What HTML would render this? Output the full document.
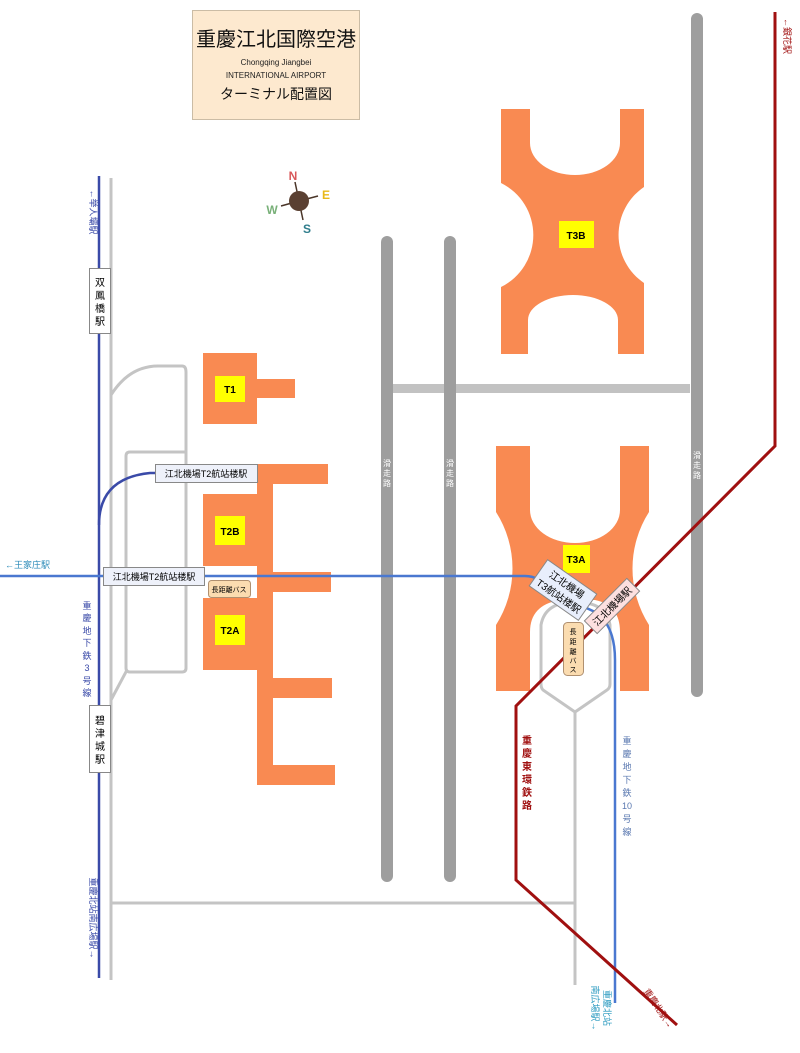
<!DOCTYPE html>
<html><head><meta charset="utf-8"><style>
html,body{margin:0;padding:0;background:#fff;}
svg{display:block;font-family:"Liberation Sans","Noto Sans CJK JP",sans-serif;}
</style></head><body>
<svg width="800" height="1053" viewBox="0 0 800 1053" xmlns="http://www.w3.org/2000/svg">
<rect width="800" height="1053" fill="#fff"/>
<!-- title -->
<rect x="192.5" y="10.5" width="167" height="109" fill="#fde9cf" stroke="#cbbca5"/>
<text x="276" y="46" font-size="20" text-anchor="middle" fill="#111">重慶江北国際空港</text>
<text x="276" y="65" font-size="8" text-anchor="middle" fill="#222">Chongqing Jiangbei</text>
<text x="276" y="78" font-size="8" text-anchor="middle" fill="#222">INTERNATIONAL AIRPORT</text>
<text x="276" y="99" font-size="14" text-anchor="middle" fill="#111">ターミナル配置図</text>
<!-- compass -->
<g stroke="#4a3528" stroke-width="1.5">
<line x1="299" y1="201" x2="295" y2="182"/><line x1="299" y1="201" x2="318" y2="196"/>
<line x1="299" y1="201" x2="281" y2="206"/><line x1="299" y1="201" x2="303" y2="220"/></g>
<circle cx="299" cy="201" r="10" fill="#5a4032"/>
<g font-size="12" font-weight="bold" text-anchor="middle">
<text x="293" y="180" fill="#d9585a">N</text><text x="326" y="199" fill="#e8b818">E</text>
<text x="272" y="214" fill="#78b078">W</text><text x="307" y="233" fill="#2f7d8c">S</text></g>
<!-- gray roads -->
<g fill="none" stroke="#c4c4c4" stroke-width="3">
<line x1="111" y1="178" x2="111" y2="980"/>
<path d="M111 395 Q130 365 160 366 L182 366 Q186 366 186 372 L186 668 Q186 672 182 672 L130 672 Q126 672 126 668 L126 456 Q126 452 130 452 L186 452"/>
<line x1="127" y1="670" x2="111" y2="700"/>
<line x1="111" y1="903" x2="575" y2="903"/>
<line x1="575" y1="712" x2="575" y2="985"/>
<path d="M575 712 L543 690 Q541 688 541 684 L541 625 Q545 602 575 602 Q606 602 610 625 L610 684 Q610 688 607 690 Z"/>
</g>
<rect x="393" y="384" width="297" height="9" fill="#c2c2c2"/>
<!-- runways -->
<g stroke="#9e9e9e" stroke-width="12" stroke-linecap="round">
<line x1="387" y1="242" x2="387" y2="876"/><line x1="450" y1="242" x2="450" y2="876"/><line x1="697" y1="19" x2="697" y2="691"/></g>
<g font-size="8" fill="#fff" text-anchor="middle">
<text x="387" y="466">滑</text><text x="387" y="476">走</text><text x="387" y="486">路</text>
<text x="450" y="466">滑</text><text x="450" y="476">走</text><text x="450" y="486">路</text>
<text x="697" y="458">滑</text><text x="697" y="468">走</text><text x="697" y="478">路</text></g>
<!-- T1/T2 -->
<g fill="#f98a52">
<rect x="203" y="353" width="54" height="71"/><rect x="257" y="379" width="38" height="19"/>
<rect x="203" y="494" width="54" height="72"/><rect x="203" y="598" width="54" height="72"/>
<rect x="257" y="464" width="16" height="321"/>
<rect x="257" y="464" width="71" height="20"/><rect x="257" y="572" width="74" height="20"/>
<rect x="257" y="678" width="75" height="20"/><rect x="257" y="765" width="78" height="20"/></g>
<g fill="#ffff00"><rect x="215" y="376" width="30" height="26"/><rect x="215" y="516" width="30" height="29"/><rect x="215" y="615" width="30" height="30"/></g>
<g font-size="10" font-weight="bold" text-anchor="middle"><text x="230" y="393">T1</text><text x="230" y="535">T2B</text><text x="230" y="634">T2A</text></g>
<!-- T3B -->
<path fill="#f98a52" d="M501 109 L530 109 L530 143 A45 32 0 0 0 620 143 L620 109 L644 109 L644 187 A58 58 0 0 0 644 283 L644 354 L618 354 L618 320 A45 25 0 0 0 528 320 L528 354 L501 354 L501 287 A58 58 0 0 0 501 183 Z"/>
<rect x="559" y="221" width="35" height="27" fill="#ffff00"/>
<text x="576" y="239" font-size="10" font-weight="bold" text-anchor="middle">T3B</text>
<!-- T3A -->
<path fill="#f98a52" d="M496 446 L530 446 L530 510 A45 33 0 0 0 620 510 L620 446 L649 446 L649 512 A105 105 0 0 0 649 625 L649 691 L620 691 L620 632 Q620 605 595 600 L560 600 Q530 605 530 632 L530 691 L496 691 L496 625 A105 105 0 0 0 496 512 Z"/>
<rect x="563" y="545" width="27" height="28" fill="#ffff00"/>
<text x="576" y="563" font-size="10" font-weight="bold" text-anchor="middle">T3A</text>
<!-- blue lines -->
<g fill="none" stroke-width="2.5">
<path d="M99 176 L99 978" stroke="#3a4aa8"/>
<path d="M99 525 Q99 478 150 473 L160 473" stroke="#3a4aa8"/>
<path d="M0 576 L525 576 Q540 576 548 590 L595 612 Q615 625 615 660 L615 1003" stroke="#4a78d0"/>
</g>
<!-- red line -->
<polyline fill="none" stroke="#a01010" stroke-width="3" points="775,12 775,446 516,706 516,880 677,1025"/>
<!-- left labels -->
<g font-size="9" fill="#3a4aa8" text-anchor="middle">
<text transform="translate(90,212) rotate(90)">←举人壩駅</text>
<text transform="translate(90,918) rotate(90)">重慶北站南広場駅→</text></g>
<g font-size="9" fill="#3a4aa8" text-anchor="middle">
<text x="87" y="609">重</text><text x="87" y="621">慶</text><text x="87" y="634">地</text><text x="87" y="646">下</text><text x="87" y="659">鉄</text><text x="87" y="671">3</text><text x="87" y="684">号</text><text x="87" y="696">線</text></g>
<text x="5" y="568" font-size="9" fill="#2a8ab8">←王家庄駅</text>
<rect x="89.5" y="268.5" width="21" height="65" fill="#fff" stroke="#888"/>
<g font-size="10" text-anchor="middle"><text x="100" y="286">双</text><text x="100" y="299">鳳</text><text x="100" y="312">橋</text><text x="100" y="325">駅</text></g>
<rect x="89.5" y="705.5" width="21" height="67" fill="#fff" stroke="#888"/>
<g font-size="10" text-anchor="middle"><text x="100" y="724">碧</text><text x="100" y="737">津</text><text x="100" y="750">城</text><text x="100" y="763">駅</text></g>
<rect x="155.5" y="464.5" width="102" height="18" fill="#eef1fa" stroke="#888"/>
<text x="206" y="477" font-size="9" text-anchor="middle">江北機場T2航站楼駅</text>
<rect x="103.5" y="567.5" width="101" height="18" fill="#eef1fa" stroke="#888"/>
<text x="154" y="580" font-size="9" text-anchor="middle">江北機場T2航站楼駅</text>
<rect x="208.5" y="580.5" width="42" height="17" rx="3" fill="#fbdcb0" stroke="#b09070"/>
<text x="229" y="592" font-size="7" text-anchor="middle">長距離バス</text>
<!-- T3 labels -->
<g transform="translate(563,590) rotate(35)">
<rect x="-30" y="-16" width="60" height="32" fill="#e8eefc" stroke="#888"/>
<text x="0" y="-3" font-size="10" text-anchor="middle">江北機場</text>
<text x="0" y="11" font-size="10" text-anchor="middle">T3航站楼駅</text></g>
<g transform="translate(612,606) rotate(-45)">
<rect x="-30" y="-9" width="60" height="18" fill="#fde0e0" stroke="#888"/>
<text x="0" y="4" font-size="10" text-anchor="middle">江北機場駅</text></g>
<rect x="563.5" y="622.5" width="20" height="53" rx="4" fill="#fbdcb0" stroke="#b09070"/>
<g font-size="7" text-anchor="middle"><text x="573" y="634">長</text><text x="573" y="644">距</text><text x="573" y="654">離</text><text x="573" y="663">バ</text><text x="573" y="672">ス</text></g>
<!-- right labels -->
<text transform="translate(784,36) rotate(90)" font-size="9" fill="#a01010" text-anchor="middle">←銀花駅</text>
<g font-size="10" fill="#a01010" text-anchor="middle" font-weight="bold">
<text x="527" y="744">重</text><text x="527" y="757">慶</text><text x="527" y="770">東</text><text x="527" y="783">環</text><text x="527" y="796">鉄</text><text x="527" y="809">路</text></g>
<g font-size="9" fill="#5a78b0" text-anchor="middle">
<text x="627" y="744">重</text><text x="627" y="757">慶</text><text x="627" y="770">地</text><text x="627" y="783">下</text><text x="627" y="796">鉄</text><text x="627" y="809">10</text><text x="627" y="822">号</text><text x="627" y="835">線</text></g>
<text transform="translate(656,1010) rotate(56)" font-size="9" fill="#a01010" text-anchor="middle">重慶北駅→</text>
<g font-size="9" fill="#2a9ac0" text-anchor="middle">
<text transform="translate(604,1008) rotate(90)">重慶北站</text>
<text transform="translate(592,1008) rotate(90)">南広場駅→</text></g>
</svg>
</body></html>
